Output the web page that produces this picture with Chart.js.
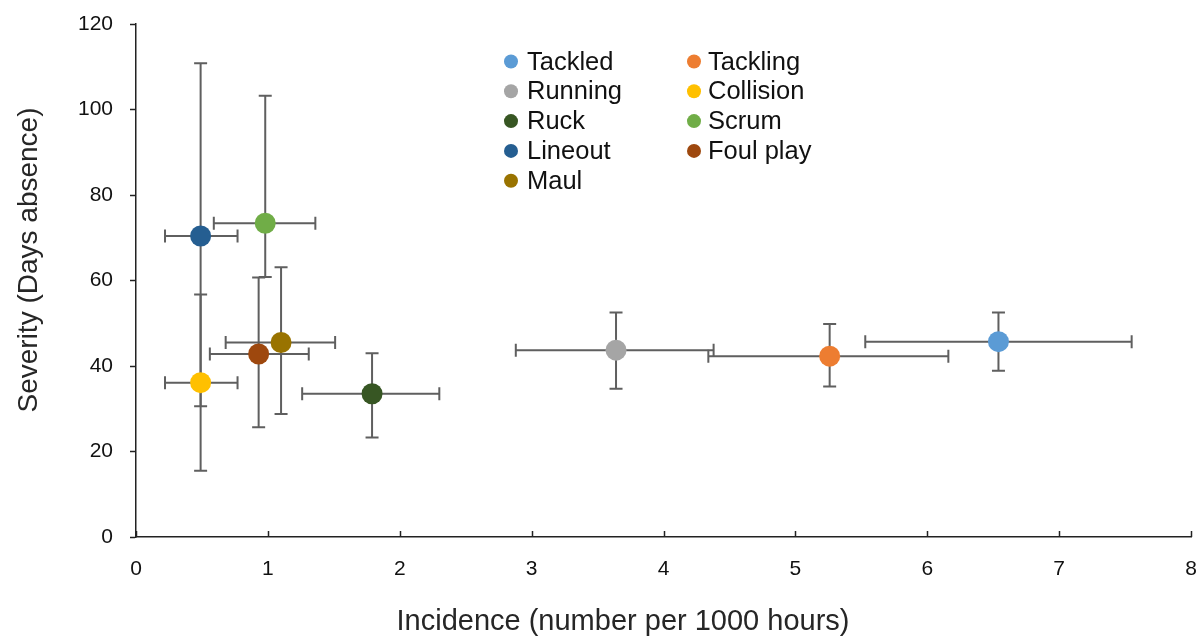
<!DOCTYPE html>
<html>
<head>
<meta charset="utf-8">
<script src="https://cdn.jsdelivr.net/npm/chart.js@4/dist/chart.umd.min.js"></script>
<style>
html,body{margin:0;padding:0;background:#fff;}
canvas{display:block;}
</style>
</head>
<body>
<canvas id="c" width="1204" height="642"></canvas>
<script>
const categories = ['Tackled','Tackling','Running','Collision','Ruck','Scrum','Lineout','Foul play','Maul'];
const colors = ['#5B9BD5','#ED7D31','#A5A5A5','#FFC000','#375623','#70AD47','#255E91','#9E480E','#997300'];
const incidence = [6.54, 5.26, 3.64, 0.49, 1.79, 0.98, 0.49, 0.93, 1.10];
const incidenceLow = [5.53, 4.34, 2.88, 0.22, 1.26, 0.59, 0.22, 0.56, 0.68];
const incidenceHigh = [7.55, 6.16, 4.38, 0.77, 2.30, 1.36, 0.77, 1.31, 1.51];
const severity = [45.7, 42.3, 43.7, 36.1, 33.5, 73.4, 70.4, 42.8, 45.5];
const severityLow = [38.9, 35.2, 34.7, 15.5, 23.3, 60.8, 30.6, 25.7, 28.8];
const severityHigh = [52.5, 49.8, 52.5, 56.7, 43.0, 103.2, 110.8, 60.7, 63.1];
const xTicks = [0,1,2,3,4,5,6,7,8];
const yTicks = [0,20,40,60,80,100,120];
const xTitle = 'Incidence (number per 1000 hours)';
const yTitle = 'Severity (Days absence)';

const FONT = '"Liberation Sans", Arial, sans-serif';

const datasets = categories.map((name, i) => ({
  label: name,
  data: [{x: incidence[i], y: severity[i]}],
  backgroundColor: colors[i],
  borderColor: colors[i],
  borderWidth: 0,
  pointRadius: 10.5,
  pointHoverRadius: 10.5
}));

const errorBars = {
  id: 'errorBars',
  beforeDatasetsDraw(chart) {
    const ctx = chart.ctx, xs = chart.scales.x, ys = chart.scales.y;
    const cap = 6.5;
    ctx.save();
    ctx.strokeStyle = '#5f5f5f';
    ctx.lineWidth = 2;
    categories.forEach((_, i) => {
      const px = xs.getPixelForValue(incidence[i]);
      const py = ys.getPixelForValue(severity[i]);
      const x1 = xs.getPixelForValue(incidenceLow[i]);
      const x2 = xs.getPixelForValue(incidenceHigh[i]);
      const y1 = ys.getPixelForValue(severityLow[i]);
      const y2 = ys.getPixelForValue(severityHigh[i]);
      ctx.beginPath();
      ctx.moveTo(x1, py); ctx.lineTo(x2, py);
      ctx.moveTo(x1, py - cap); ctx.lineTo(x1, py + cap);
      ctx.moveTo(x2, py - cap); ctx.lineTo(x2, py + cap);
      ctx.moveTo(px, y1); ctx.lineTo(px, y2);
      ctx.moveTo(px - cap, y1); ctx.lineTo(px + cap, y1);
      ctx.moveTo(px - cap, y2); ctx.lineTo(px + cap, y2);
      ctx.stroke();
    });
    ctx.restore();
  },
  afterDraw(chart) {
    const ctx = chart.ctx, xs = chart.scales.x, ys = chart.scales.y;
    ctx.save();
    // inward x-axis tick marks
    ctx.strokeStyle = '#222';
    ctx.lineWidth = 1.5;
    xTicks.forEach(v => {
      const px = Math.round(xs.getPixelForValue(v)) + 0.5;
      ctx.beginPath();
      ctx.moveTo(px, ys.bottom);
      ctx.lineTo(px, ys.bottom - 6);
      ctx.stroke();
    });
    // axis titles
    ctx.fillStyle = '#262626';
    ctx.textAlign = 'center';
    ctx.textBaseline = 'middle';
    ctx.font = '29px ' + FONT;
    ctx.fillText(xTitle, 623, 622);
    ctx.save();
    ctx.translate(29, 260);
    ctx.rotate(-Math.PI / 2);
    ctx.font = '28px ' + FONT;
    ctx.fillText(yTitle, 0, 0);
    ctx.restore();
    // legend inside plot
    const colX = [511, 694];
    const textX = [527, 708];
    const rowY0 = 61.5, rowH = 29.8;
    ctx.font = '25.5px ' + FONT;
    ctx.textAlign = 'left';
    categories.forEach((name, i) => {
      const col = i % 2, row = Math.floor(i / 2);
      const cy = rowY0 + row * rowH;
      ctx.fillStyle = colors[i];
      ctx.beginPath();
      ctx.arc(colX[col], cy, 7, 0, Math.PI * 2);
      ctx.fill();
      ctx.fillStyle = '#111';
      ctx.fillText(name, textX[col], cy + 1);
    });
    ctx.restore();
  }
};

new Chart(document.getElementById('c'), {
  type: 'scatter',
  data: { datasets },
  options: {
    responsive: false,
    animation: false,
    events: [],
    layout: { padding: { top: 24, right: 13, left: 0, bottom: 0 } },
    plugins: { legend: { display: false }, tooltip: { enabled: false } },
    scales: {
      x: {
        type: 'linear', min: 0, max: 8,
        afterBuildTicks(s) { s.ticks = xTicks.map(v => ({value: v})); },
        afterFit(s) { s.height = 105; s.paddingLeft = 0; s.paddingRight = 0; },
        grid: { drawOnChartArea: false, drawTicks: false },
        border: { color: '#222', width: 1.5 },
        ticks: { padding: 20, color: '#111', font: { family: FONT, size: 21 } },
        title: { display: false }
      },
      y: {
        type: 'linear', min: 0, max: 120,
        afterBuildTicks(s) { s.ticks = yTicks.map(v => ({value: v})); },
        afterFit(s) { s.width = 136; s.paddingTop = 0; s.paddingBottom = 0; },
        grid: { drawOnChartArea: false, drawTicks: true, tickLength: 6, tickColor: '#222', tickWidth: 1.5 },
        border: { color: '#222', width: 1.5 },
        ticks: { padding: 17, color: '#111', font: { family: FONT, size: 21 } },
        title: { display: false }
      }
    }
  },
  plugins: [errorBars]
});
</script>
</body>
</html>
